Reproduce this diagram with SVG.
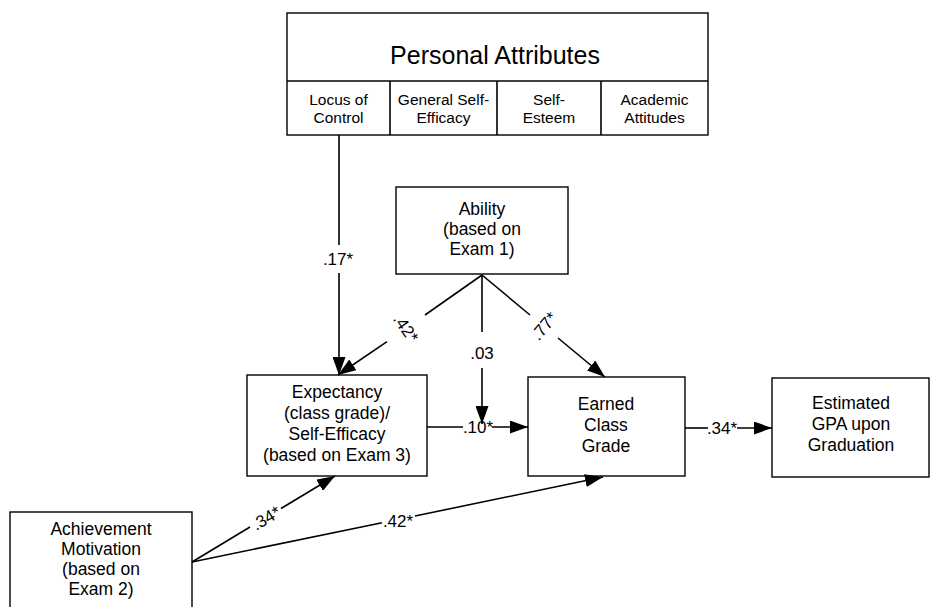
<svg xmlns="http://www.w3.org/2000/svg" width="935" height="607" viewBox="0 0 935 607">
<style>
.box{fill:#fff;stroke:#000;stroke-width:1.4}
.ln{fill:none;stroke:#000;stroke-width:1.6}
.t{font-family:"Liberation Sans",Arial,sans-serif;fill:#000;text-anchor:middle}
.n{font-size:17.5px}
.c{font-size:15.5px}
.lb{font-size:17px}
</style>
<defs>
<marker id="ah" viewBox="0 0 18 13" refX="18" refY="6.5" markerWidth="18" markerHeight="13" markerUnits="userSpaceOnUse" orient="auto">
<path d="M0,0 L18,6.5 L0,13 Z" fill="#000"/>
</marker>
</defs>
<rect width="935" height="607" fill="#fff"/>
<g id="personal-attributes">
<rect class="box" x="287" y="13" width="421" height="122"/>
<line class="ln" x1="287" y1="81" x2="708" y2="81"/>
<line class="ln" x1="390" y1="81" x2="390" y2="135"/>
<line class="ln" x1="497" y1="81" x2="497" y2="135"/>
<line class="ln" x1="601" y1="81" x2="601" y2="135"/>
<text class="t" x="495" y="64" font-size="25">Personal Attributes</text>
<text class="t c" x="338.5" y="105">Locus of</text>
<text class="t c" x="338.5" y="123">Control</text>
<text class="t c" x="443.5" y="105">General Self-</text>
<text class="t c" x="443.5" y="123">Efficacy</text>
<text class="t c" x="549" y="105">Self-</text>
<text class="t c" x="549" y="123">Esteem</text>
<text class="t c" x="654.5" y="105">Academic</text>
<text class="t c" x="654.5" y="123">Attitudes</text>
</g>
<g id="ability">
<rect class="box" x="396" y="187" width="172" height="87"/>
<text class="t n" x="482" y="215">Ability</text>
<text class="t n" x="482" y="235">(based on</text>
<text class="t n" x="482" y="255">Exam 1)</text>
</g>
<g id="expectancy">
<rect class="box" x="247" y="375" width="180" height="101"/>
<text class="t n" x="337" y="398">Expectancy</text>
<text class="t n" x="337" y="419">(class grade)/</text>
<text class="t n" x="337" y="440">Self-Efficacy</text>
<text class="t n" x="337" y="461">(based on Exam 3)</text>
</g>
<g id="earned-class-grade">
<rect class="box" x="528" y="377" width="157" height="99"/>
<text class="t n" x="606" y="410">Earned</text>
<text class="t n" x="606" y="431">Class</text>
<text class="t n" x="606" y="452">Grade</text>
</g>
<g id="estimated-gpa">
<rect class="box" x="772" y="378" width="157" height="99"/>
<text class="t n" x="851" y="409">Estimated</text>
<text class="t n" x="851" y="430">GPA upon</text>
<text class="t n" x="851" y="451">Graduation</text>
</g>
<g id="achievement-motivation">
<rect class="box" x="10" y="512" width="182" height="110"/>
<text class="t n" x="101" y="535">Achievement</text>
<text class="t n" x="101" y="555">Motivation</text>
<text class="t n" x="101" y="575">(based on</text>
<text class="t n" x="101" y="595">Exam 2)</text>
</g>
<g id="connectors">
<line class="ln" x1="339" y1="135" x2="339" y2="245"/>
<line class="ln" x1="339" y1="273" x2="339" y2="375" marker-end="url(#ah)"/>
<text class="t lb" x="338" y="265">.17*</text>
<line class="ln" x1="482" y1="275" x2="425" y2="315"/>
<line class="ln" x1="387" y1="341.6" x2="338" y2="375" marker-end="url(#ah)"/>
<text class="t lb" transform="translate(406,328) rotate(55)" x="0" y="6">.42*</text>
<line class="ln" x1="482" y1="275" x2="530" y2="315"/>
<line class="ln" x1="558" y1="338" x2="605" y2="377" marker-end="url(#ah)"/>
<text class="t lb" transform="translate(544,326) rotate(-50)" x="0" y="6">.77*</text>
<line class="ln" x1="482" y1="275" x2="482" y2="332"/>
<line class="ln" x1="482" y1="368" x2="482" y2="424" marker-end="url(#ah)"/>
<text class="t lb" x="482" y="359">.03</text>
<line class="ln" x1="427" y1="427" x2="463" y2="427"/>
<line class="ln" x1="492" y1="427" x2="528" y2="427" marker-end="url(#ah)"/>
<text class="t lb" x="478" y="433">.10*</text>
<line class="ln" x1="685" y1="428" x2="708" y2="428"/>
<line class="ln" x1="737" y1="428" x2="772" y2="428" marker-end="url(#ah)"/>
<text class="t lb" x="722" y="434">.34*</text>
<line class="ln" x1="192" y1="562" x2="250" y2="527"/>
<line class="ln" x1="281" y1="508.5" x2="335" y2="476" marker-end="url(#ah)"/>
<text class="t lb" transform="translate(266,518) rotate(-31)" x="0" y="6">.34*</text>
<line class="ln" x1="192" y1="562" x2="382" y2="522.7"/>
<line class="ln" x1="415" y1="516" x2="603" y2="477" marker-end="url(#ah)"/>
<text class="t lb" x="398" y="527">.42*</text>
</g>
</svg>
